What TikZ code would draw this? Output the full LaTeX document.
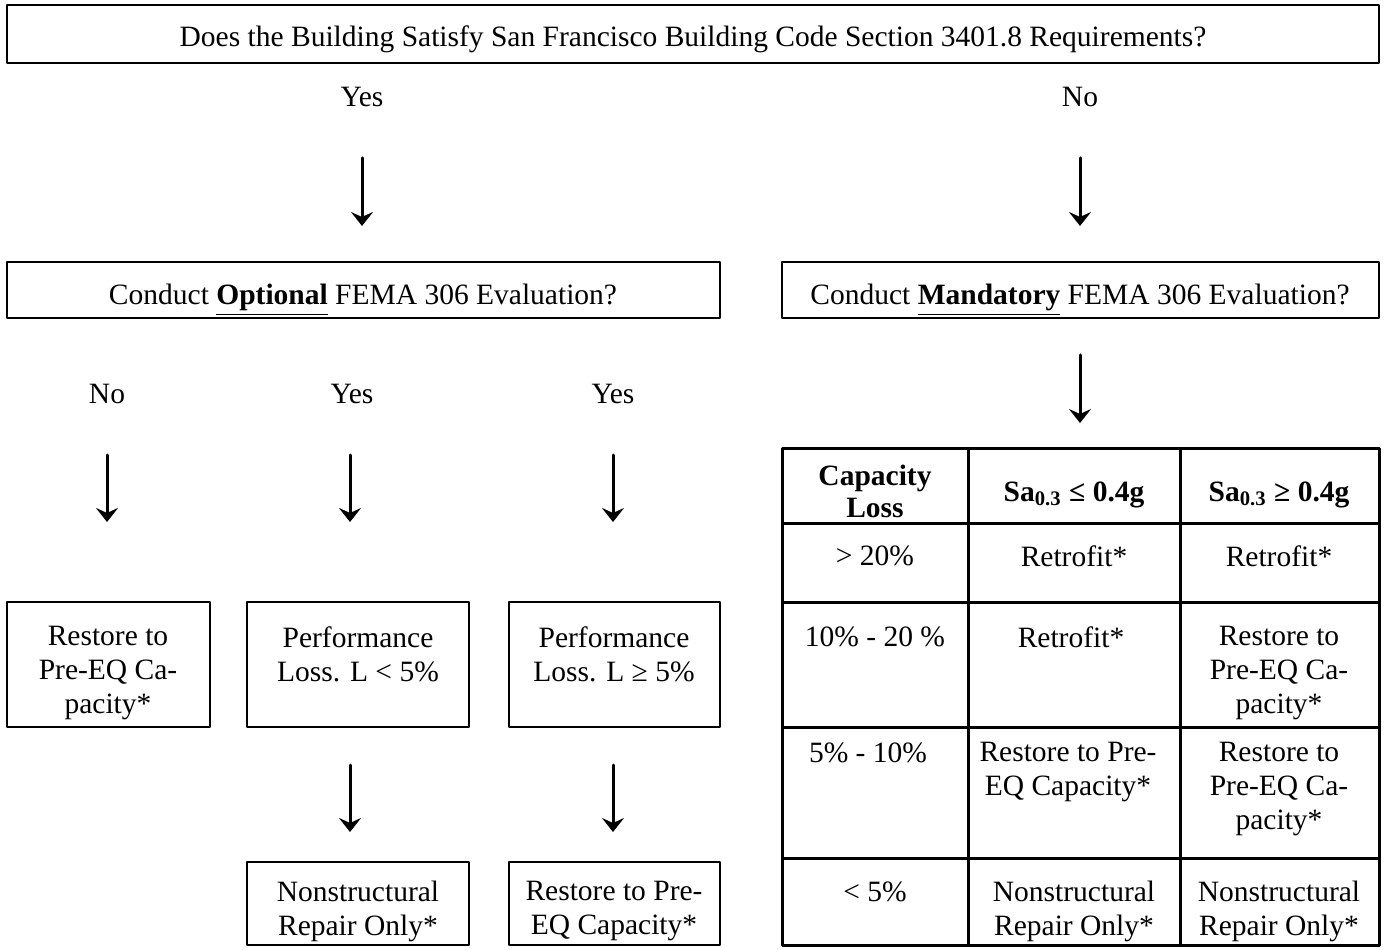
\documentclass[tikz,border=0pt]{standalone}
\usepackage{fontspec}
\setmainfont{Liberation Serif}
\usetikzlibrary{arrows.meta,fit}

\begin{document}
\begin{tikzpicture}[x=0.4pt,y=-0.4pt,line cap=round,line join=round,
  box/.style={draw,line width=1pt,inner sep=0pt},
  cell/.style={draw,line width=1.2pt,inner sep=0pt},
  txt/.style={anchor=north,inner sep=0pt,align=center,font=\fontsize{11.8}{13.6}\selectfont},
  hd/.style={txt,font=\fontsize{11.8}{12.8}\selectfont\bfseries},
  flow/.style={-{Stealth[length=5.6pt,width=8.8pt,inset=2pt]},line width=1.2pt}]
 \useasboundingbox (0,0) rectangle (1384,950);
 % question boxes
 \node[box,fit={(7,5) (1379,63)}] (q) {};
 \node[txt] (qt) at (693,25) {Does the Building Satisfy San Francisco Building Code Section 3401.8 Requirements?};
 \node[txt] (yes) at (362,87) {Yes};
 \node[txt] (no) at (1080,87) {No};
 \node[box,fit={(7,262) (720,318)}] (opt) {};
 \node[txt] (optt) at (363,284) {Conduct \underline{\textbf{Optional}} FEMA 306 Evaluation?};
 \node[box,fit={(782,262) (1379,318)}] (mand) {};
 \node[txt] (mandt) at (1080,284) {Conduct \underline{\textbf{Mandatory}} FEMA 306 Evaluation?};
 \node[txt] (ono) at (107,384) {No};
 \node[txt] (oyes) at (352,384) {Yes};
 \node[txt] (oyes2) at (613,384) {Yes};
 % optional branch
 \node[box,fit={(7,602) (210,727)}] (rest) {};
 \node[txt] (restt) at (108,626) {Restore to\\Pre-EQ Ca-\\pacity*};
 \node[box,fit={(247,602) (469,727)}] (perf) {};
 \node[txt] (perft) at (358,626) {Performance\\Loss. L < 5\%};
 \node[box,fit={(509,602) (720,727)}] (perfb) {};
 \node[txt] (perfbt) at (614,626) {Performance\\Loss. L ≥ 5\%};
 \node[box,fit={(247,862) (469,945)}] (nons) {};
 \node[txt] (nonst) at (358,881) {Nonstructural\\Repair Only*};
 \node[box,fit={(509,862) (720,945)}] (pre) {};
 \node[txt] (pret) at (614,881) {Restore to Pre-\\EQ Capacity*};
 % arrows
 \foreach \n/\x/\ya/\yb in {a/362/158/226,b/1080/158/226,c/1080/355/423,
   d/107/455/522,e/350/455/522,f/613/455/522,g/350/765/832,h/613/765/832}{
  \coordinate (\n1) at (\x,\ya);
  \coordinate (\n2) at (\x,\yb);
  \draw[flow] (\n1) -- (\n2);
 }
 % table
 \foreach \xa/\xb/\c in {782/968/a,968/1180/b,1180/1379/c}
  \foreach \ya/\yb/\r in {449/524/0,524/603/1,603/727/2,727/858/3,858/945/4}
   \node[cell,fit={(\xa,\ya) (\xb,\yb)}] (\c\r) {};
 \node[hd] (a0t) at (875,465) {Capacity\\Loss};
 \node[hd] (b0t) at (1074,481) {Sa\textsubscript{0.3} ≤ 0.4g};
 \node[hd] (c0t) at (1279,481) {Sa\textsubscript{0.3} ≥ 0.4g};
 \node[txt] (a1t) at (875,545) {> 20\%};
 \node[txt] (b1t) at (1074,545) {Retrofit*};
 \node[txt] (c1t) at (1279,545) {Retrofit*};
 \node[txt] (a2t) at (875,626) {10\% - 20 \%};
 \node[txt] (b2t) at (1071,626) {Retrofit*};
 \node[txt] (c2t) at (1279,626) {Restore to\\Pre-EQ Ca-\\pacity*};
 \node[txt] (a3t) at (868,742) {5\% - 10\%};
 \node[txt] (b3t) at (1068,742) {Restore to Pre-\\EQ Capacity*};
 \node[txt] (c3t) at (1279,742) {Restore to\\Pre-EQ Ca-\\pacity*};
 \node[txt] (a4t) at (875,881) {< 5\%};
 \node[txt] (b4t) at (1074,881) {Nonstructural\\Repair Only*};
 \node[txt] (c4t) at (1279,881) {Nonstructural\\Repair Only*};
\end{tikzpicture}
\end{document}
